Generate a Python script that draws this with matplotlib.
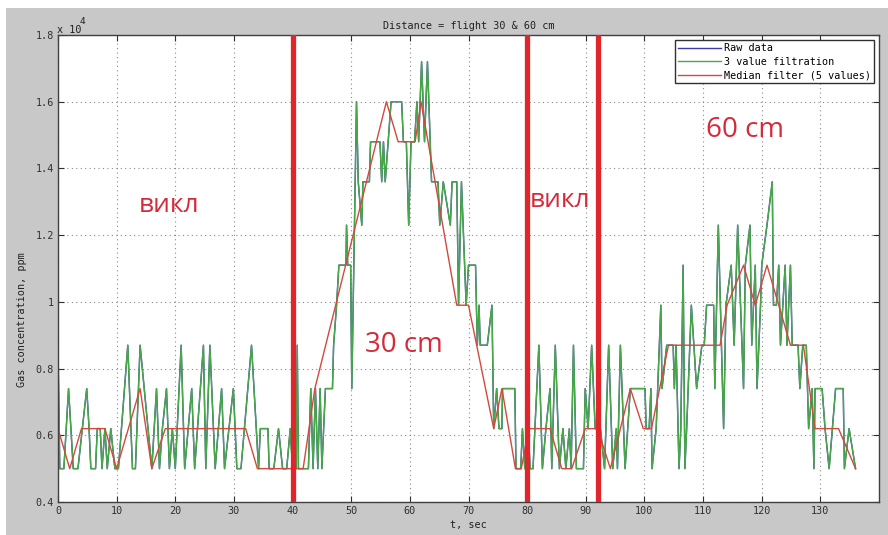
"""
Gas sensor reading while flying at 30 cm and 60 cm.
Raw data, 3 value filtration and 5 value median filter.
"""

import matplotlib
matplotlib.use("Agg")
import matplotlib.pyplot as plt
from matplotlib.patches import Rectangle
from matplotlib.ticker import FuncFormatter, MultipleLocator

# values, units of 10^4 ppm
filt_t = [0.0, 0.3, 1.0, 1.8, 2.6, 3.4, 4.9, 5.3, 5.6, 6.4, 6.7, 7.2, 7.5, 8.0, 8.4, 9.0, 9.7,
          10.3, 11.9, 12.7, 13.2, 14.0, 16.0, 16.8, 17.3, 17.8, 18.5, 19.0, 19.5, 20.0, 21.0,
          21.6, 22.8, 23.3, 24.8, 25.2, 25.9, 26.8, 27.9, 28.4, 29.9, 30.5, 31.2, 33.0, 34.2,
          34.5, 35.8, 36.0, 36.8, 37.6, 38.3, 39.0, 39.6, 40.0, 40.6, 40.8, 41.0, 42.7, 43.1,
          43.5, 43.9, 44.3, 44.7, 45.0, 45.6, 46.8, 47.0, 47.5, 47.9, 49.1, 49.2, 49.4, 49.9,
          50.1, 50.9, 51.2, 51.8, 52.0, 53.1, 53.3, 54.9, 55.2, 55.5, 55.8, 56.3, 56.8, 58.6,
          58.9, 59.4, 59.8, 60.2, 60.8, 61.2, 61.5, 62.0, 62.5, 63.0, 63.7, 64.8, 65.1, 65.7,
          66.9, 67.2, 68.0, 68.3, 68.8, 69.6, 70.0, 71.2, 71.5, 71.8, 72.0, 73.2, 74.0, 74.3,
          74.8, 75.2, 75.7, 75.8, 77.9, 78.1, 78.9, 79.2, 79.6, 80.2, 80.5, 81.0, 82.0, 82.6,
          83.2, 83.9, 84.2, 84.8, 85.5, 86.1, 86.6, 87.2, 87.5, 87.9, 88.4, 89.6, 89.9, 90.4,
          91.0, 91.6, 92.5, 93.2, 93.9, 94.6, 95.2, 95.4, 95.9, 96.7, 97.6, 100.1, 100.3,
          100.8, 101.1, 101.3, 102.0, 102.8, 103.0, 103.8, 104.9, 105.1, 105.4, 105.9, 106.2,
          106.6, 106.9, 107.2, 108.0, 108.9, 109.8, 110.2, 110.6, 111.8, 112.0, 112.6, 113.5,
          113.9, 114.8, 115.3, 115.9, 116.9, 117.2, 118.0, 118.3, 118.9, 119.2, 119.8, 120.0,
          120.9, 121.8, 122.0, 122.5, 122.9, 123.2, 124.0, 124.3, 124.9, 125.2, 126.2, 126.5,
          127.0, 127.6, 128.0, 128.6, 128.9, 129.1, 130.3, 130.8, 131.5, 132.6, 133.9, 134.1,
          134.9, 136.0]
filt_v = [0.87, 0.50, 0.50, 0.74, 0.50, 0.50, 0.74, 0.62, 0.50, 0.50, 0.62, 0.62, 0.50, 0.62,
          0.50, 0.62, 0.50, 0.50, 0.87, 0.50, 0.50, 0.87, 0.50, 0.74, 0.50, 0.62, 0.74, 0.50,
          0.62, 0.50, 0.87, 0.50, 0.74, 0.50, 0.87, 0.50, 0.87, 0.50, 0.74, 0.50, 0.74, 0.50,
          0.50, 0.87, 0.50, 0.62, 0.62, 0.50, 0.50, 0.62, 0.50, 0.50, 0.62, 0.50, 0.50, 0.87,
          0.50, 0.50, 0.74, 0.50, 0.74, 0.50, 0.74, 0.50, 0.74, 0.74, 0.87, 0.99, 1.11, 1.11,
          1.23, 1.11, 1.11, 0.74, 1.60, 1.36, 1.23, 1.36, 1.36, 1.48, 1.48, 1.36, 1.48, 1.36,
          1.48, 1.60, 1.60, 1.48, 1.48, 1.23, 1.48, 1.48, 1.60, 1.48, 1.72, 1.48, 1.72, 1.36,
          1.36, 1.23, 1.36, 1.23, 1.36, 1.36, 0.99, 1.36, 0.99, 1.11, 1.11, 0.87, 0.99, 0.87,
          0.87, 0.99, 0.62, 0.74, 0.62, 0.62, 0.74, 0.74, 0.50, 0.50, 0.62, 0.50, 0.62, 0.50,
          0.50, 0.87, 0.50, 0.62, 0.74, 0.50, 0.87, 0.50, 0.62, 0.50, 0.62, 0.50, 0.87, 0.50,
          0.50, 0.74, 0.62, 0.87, 0.62, 0.62, 0.50, 0.87, 0.50, 0.62, 0.50, 0.87, 0.50, 0.74,
          0.74, 0.62, 0.62, 0.74, 0.50, 0.62, 0.99, 0.74, 0.87, 0.87, 0.74, 0.87, 0.50, 0.62,
          1.11, 0.50, 0.62, 0.99, 0.74, 0.87, 0.87, 0.99, 0.99, 0.74, 1.23, 0.62, 0.99, 1.11,
          0.87, 1.23, 0.74, 1.11, 1.23, 0.87, 1.11, 0.74, 0.99, 1.11, 1.23, 1.36, 0.99, 0.99,
          1.11, 0.87, 1.11, 0.87, 1.11, 0.87, 0.87, 0.74, 0.87, 0.87, 0.62, 0.74, 0.50, 0.74,
          0.74, 0.62, 0.50, 0.74, 0.74, 0.50, 0.62, 0.50]

# raw data sits right under the filtered line
raw_t = filt_t
raw_v = filt_v

median_t = [0.0, 2.0, 4.0, 8.0, 10.0, 14.0, 16.0, 18.3, 32.0, 34.0, 41.8, 43.8, 56.0, 58.0,
            60.9, 61.9, 68.0, 70.0, 74.3, 75.7, 78.0, 79.0, 80.3, 83.9, 85.9, 87.6, 89.9,
            92.0, 94.2, 97.6, 99.8, 101.2, 104.1, 112.9, 114.1, 116.9, 118.9, 120.9, 124.9,
            127.1, 129.1, 133.1, 136.0]
median_v = [0.62, 0.50, 0.62, 0.62, 0.50, 0.74, 0.50, 0.62, 0.62, 0.50, 0.50, 0.74, 1.60,
            1.48, 1.48, 1.60, 0.99, 0.99, 0.62, 0.74, 0.50, 0.50, 0.62, 0.62, 0.50, 0.50,
            0.62, 0.62, 0.50, 0.74, 0.62, 0.62, 0.87, 0.87, 0.99, 1.11, 0.99, 1.11, 0.87,
            0.87, 0.62, 0.62, 0.50]

# moments the fan was switched
switch_t = [40, 80, 92]

x_ticks = list(range(0, 140, 10))
y_ticks = [0.4, 0.6, 0.8, 1.0, 1.2, 1.4, 1.6, 1.8]

MONO = "DejaVu Sans Mono"
FS = 7.3
NOTE_RED = "#d42a3a"

fig = plt.figure(figsize=(8.88, 5.35), dpi=100, facecolor="white")
# grey matlab window background, with the thin white margin of the screenshot
fig.patches.append(Rectangle((6 / 888, 0), 1, (535 - 8) / 535, transform=fig.transFigure,
                             facecolor="#c8c8c8", edgecolor="none", zorder=-10))

ax = fig.add_axes([58 / 888, (535 - 502) / 535, 821 / 888, 467 / 535])
ax.set_facecolor("white")

ax.plot(raw_t, raw_v, color="#3a3aa8", lw=1.0, label="Raw data")
ax.plot(filt_t, filt_v, color="#46a846", lw=1.0, label="3 value filtration")
ax.plot(median_t, median_v, color="#d2493e", lw=1.0, label="Median filter (5 values)")

for t in switch_t:
    ax.axvline(t, color="#e2242b", lw=3.8, zorder=5)

ax.set_xlim(0, 140)
ax.set_ylim(0.4, 1.8)
ax.set_xticks(x_ticks)
ax.set_yticks(y_ticks)
ax.yaxis.set_major_formatter(FuncFormatter(lambda v, p: f"{v:g}"))
ax.grid(True, linestyle=(0, (1, 3)), color="#8a8a8a", lw=0.8)
ax.tick_params(direction="in", length=4, top=True, right=True, labelsize=FS,
               colors="#303030", pad=3)
for lab in ax.get_xticklabels() + ax.get_yticklabels():
    lab.set_family(MONO)
for s in ax.spines.values():
    s.set_color("#404040")
    s.set_linewidth(1.0)

ax.set_title("Distance = flight 30 & 60 cm", fontsize=FS, family=MONO, pad=4, color="#202020")
ax.set_xlabel("t, sec", fontsize=FS, family=MONO, color="#202020", labelpad=3)
fig.text(22 / 888, 1 - 320 / 535, "Gas concentration, ppm", rotation=90, fontsize=FS,
         family=MONO, color="#202020", ha="center", va="center")

# exponent shown matlab style
fig.text(57 / 888, 1 - 33 / 535, "x 10", fontsize=FS, family=MONO, color="#202020")
fig.text(80 / 888, 1 - 24 / 535, "4", fontsize=FS - 0.5, family=MONO, color="#202020")

leg = ax.legend(loc="upper right", bbox_to_anchor=(0.994, 0.989), borderaxespad=0,
                fancybox=False, framealpha=1, edgecolor="#303030", handlelength=4.2,
                handletextpad=0.3, labelspacing=0.35, borderpad=0.3,
                prop={"family": MONO, "size": FS})
leg.get_frame().set_linewidth(1.0)
leg.set_zorder(10)

# hand written notes
ax.text(13.7, 1.29, "викл", color=NOTE_RED, fontsize=19, family="Open Sans", va="center")
ax.text(80.4, 1.305, "викл", color=NOTE_RED, fontsize=19, family="Open Sans", va="center")
ax.text(52.3, 0.87, "30 cm", color=NOTE_RED, fontsize=20, family="Open Sans", va="center")
ax.text(110.5, 1.515, "60 cm", color=NOTE_RED, fontsize=20, family="Open Sans", va="center")

fig.savefig("out.png", dpi=100, facecolor=fig.get_facecolor())
